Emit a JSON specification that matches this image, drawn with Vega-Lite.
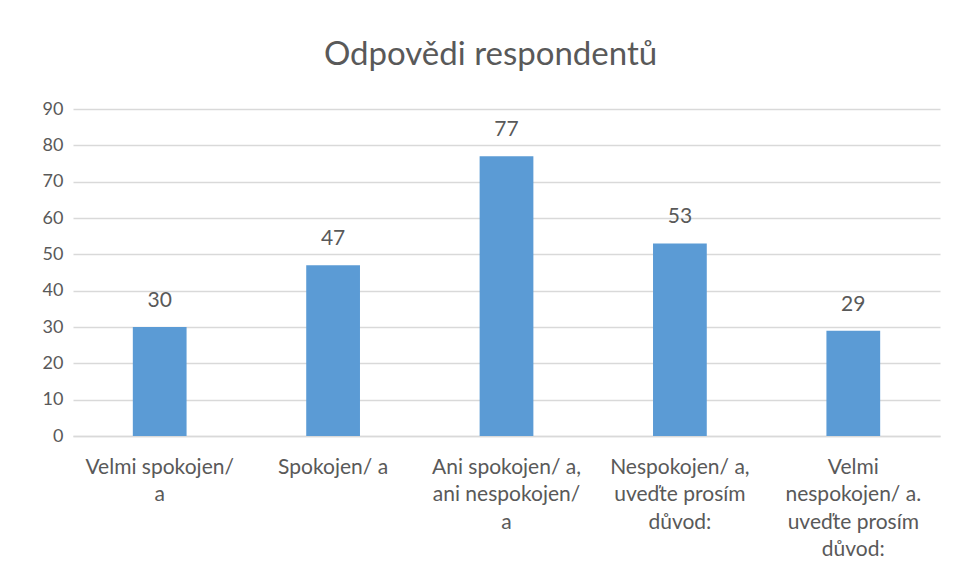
{
  "$schema": "https://vega.github.io/schema/vega-lite/v6.json",
  "width": 867,
  "height": 327,
  "autosize": {"type": "none"},
  "padding": {"left": 73, "top": 109, "right": 15, "bottom": 145},
  "background": "white",
  "title": {
    "text": "Odpovědi respondentů",
    "font": "Lato",
    "fontSize": 33,
    "fontWeight": "normal",
    "color": "#595959",
    "anchor": "middle",
    "offset": 28,
    "dx": -16
  },
  "data": {
    "values": [
      {"odpoved": "Velmi spokojen/ a", "pocet": 30},
      {"odpoved": "Spokojen/ a", "pocet": 47},
      {"odpoved": "Ani spokojen/ a, ani nespokojen/ a", "pocet": 77},
      {"odpoved": "Nespokojen/ a, uveďte prosím důvod:", "pocet": 53},
      {"odpoved": "Velmi nespokojen/ a. uveďte prosím důvod:", "pocet": 29}
    ]
  },
  "encoding": {
    "x": {
      "field": "odpoved",
      "type": "nominal",
      "sort": null,
      "scale": {"paddingInner": 0.69, "paddingOuter": 0.345},
      "axis": {
        "title": null,
        "labelAngle": 0,
        "labelFont": "Lato",
        "labelFontSize": 21,
        "labelColor": "#595959",
        "labelPadding": 20,
        "labelLineHeight": 27.5,
        "labelLimit": 400,
        "ticks": false,
        "domainColor": "#d9d9d9",
        "domainWidth": 1.5,
        "labelExpr": "datum.value == 'Velmi spokojen/ a' ? ['Velmi spokojen/', 'a'] : datum.value == 'Spokojen/ a' ? ['Spokojen/ a'] : datum.value == 'Ani spokojen/ a, ani nespokojen/ a' ? ['Ani spokojen/ a,', 'ani nespokojen/', 'a'] : datum.value == 'Nespokojen/ a, uveďte prosím důvod:' ? ['Nespokojen/ a,', 'uveďte prosím', 'důvod:'] : ['Velmi', 'nespokojen/ a.', 'uveďte prosím', 'důvod:']"
      }
    },
    "y": {
      "field": "pocet",
      "type": "quantitative",
      "scale": {"domain": [0, 90]},
      "axis": {
        "title": null,
        "values": [0, 10, 20, 30, 40, 50, 60, 70, 80, 90],
        "labelFont": "Lato",
        "labelFontSize": 18,
        "labelColor": "#595959",
        "labelPadding": 10,
        "ticks": false,
        "domain": false,
        "gridColor": "#d9d9d9",
        "gridWidth": 1.5
      }
    }
  },
  "layer": [
    {"mark": {"type": "bar", "color": "#5b9bd5"}},
    {
      "mark": {"type": "text", "dy": -26, "font": "Lato", "fontSize": 21, "color": "#595959"},
      "encoding": {"text": {"field": "pocet", "type": "quantitative"}}
    }
  ],
  "config": {"view": {"stroke": null}}
}
